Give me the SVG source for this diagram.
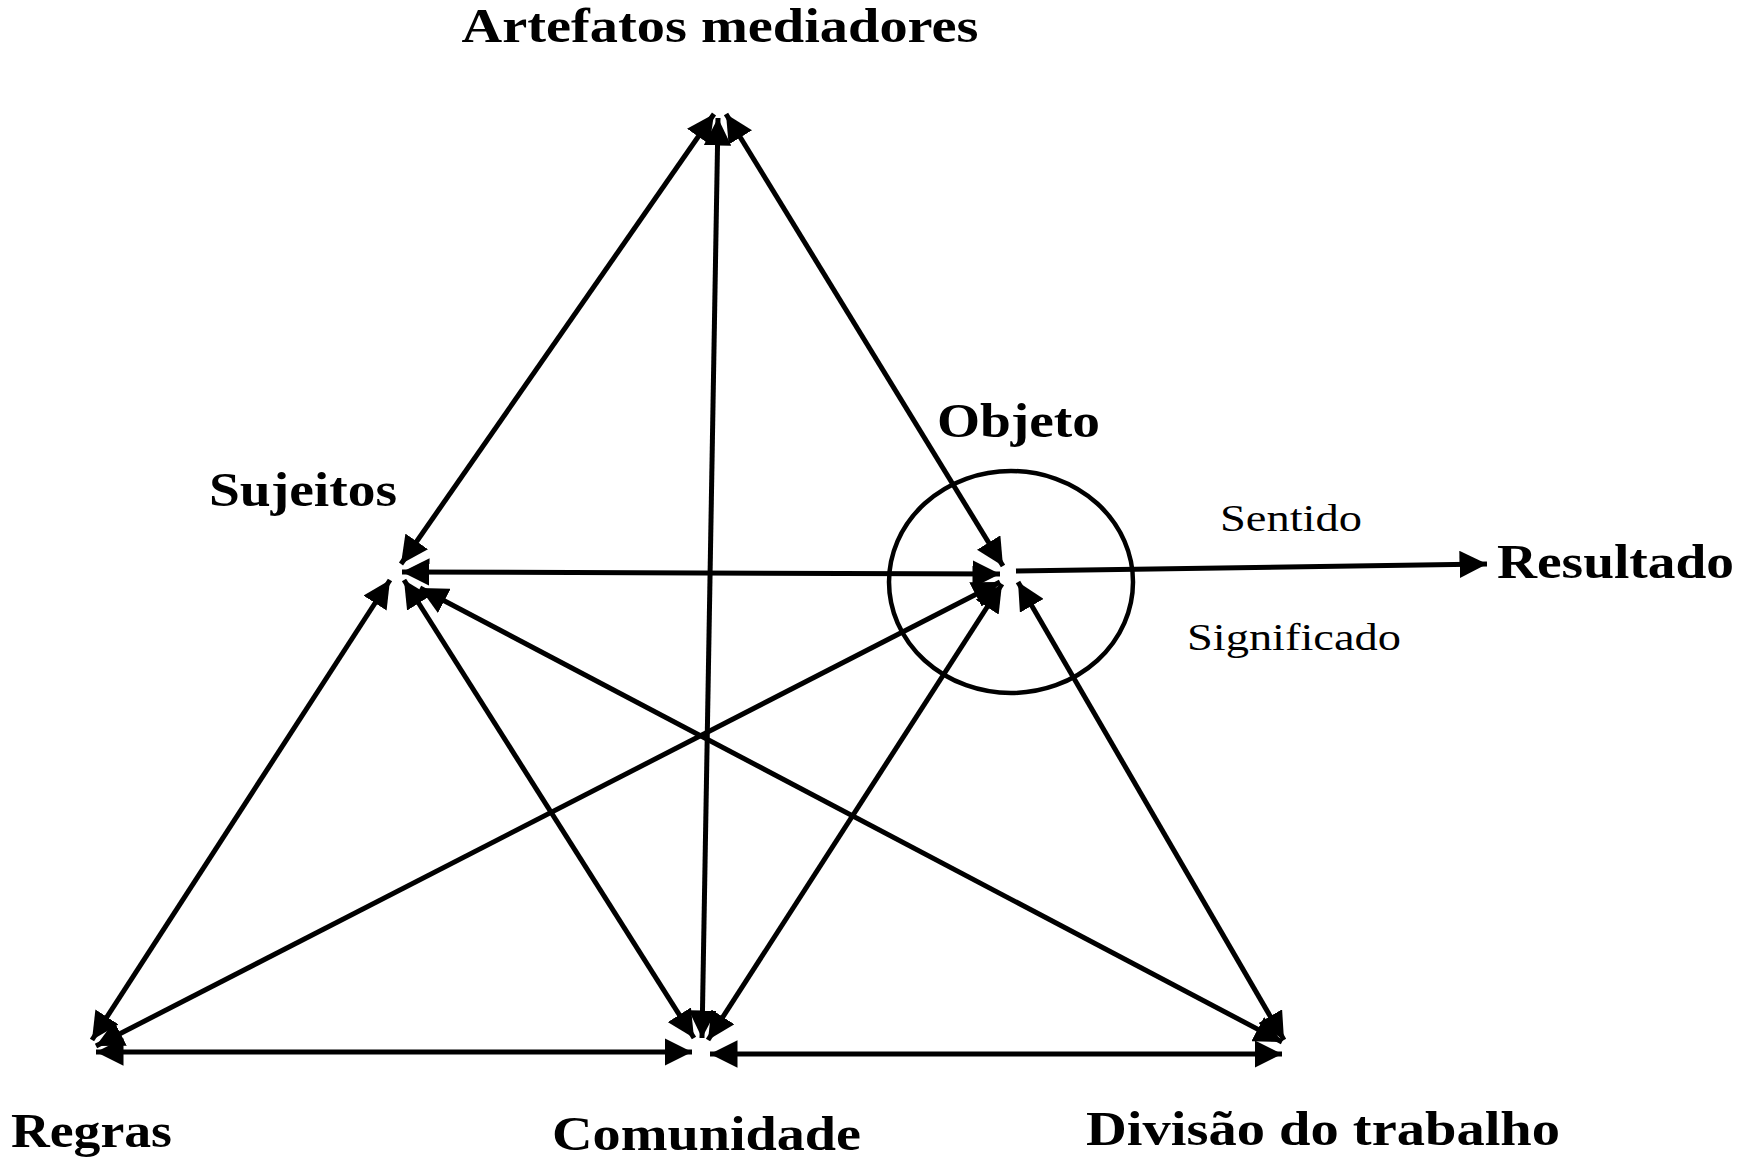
<svg xmlns="http://www.w3.org/2000/svg" width="1743" height="1163" viewBox="0 0 1743 1163">
<style>
.b{font-family:"Liberation Serif",serif;font-weight:bold;font-size:48px;fill:#000}
.n{font-family:"Liberation Serif",serif;font-size:38px;fill:#000}
.c line{stroke:#000;stroke-width:5;marker-end:url(#a);marker-start:url(#a)}
</style>
<defs><marker id="a" viewBox="0 0 10 10" refX="10" refY="5" markerWidth="5.5" markerHeight="5.5" orient="auto-start-reverse"><path d="M0,0L10,5L0,10z"/></marker></defs>
<rect width="1743" height="1163" fill="#fff"/>
<g class="c" id="connectors">
<line x1="401" y1="564" x2="714" y2="114"/>
<line x1="726" y1="114" x2="1003" y2="566"/>
<line x1="718" y1="118" x2="702" y2="1038"/>
<line x1="402" y1="572" x2="1000" y2="574"/>
<line x1="390" y1="580" x2="92" y2="1040"/>
<line x1="404" y1="580" x2="694" y2="1038"/>
<line x1="420" y1="588" x2="1282" y2="1042"/>
<line x1="1000" y1="582" x2="96" y2="1046"/>
<line x1="1002" y1="584" x2="708" y2="1040"/>
<line x1="1018" y1="582" x2="1284" y2="1040"/>
<line x1="96" y1="1052" x2="692" y2="1052"/>
<line x1="710" y1="1054" x2="1282" y2="1054"/>
<line x1="1016" y1="571" x2="1487" y2="564" style="marker-start:none"/>
<ellipse cx="1011" cy="582" rx="122" ry="111" fill="none" stroke="#000" stroke-width="4.5"/>
</g>
<g id="artefatos"><text class="b" x="720" y="42" text-anchor="middle" textLength="517" lengthAdjust="spacingAndGlyphs">Artefatos mediadores</text></g>
<g id="sujeitos"><text class="b" x="209" y="506" textLength="188" lengthAdjust="spacingAndGlyphs">Sujeitos</text></g>
<g id="objeto"><text class="b" x="937" y="437" textLength="163" lengthAdjust="spacingAndGlyphs">Objeto</text></g>
<g id="sentido"><text class="n" x="1220" y="531" textLength="142" lengthAdjust="spacingAndGlyphs">Sentido</text></g>
<g id="significado"><text class="n" x="1187" y="650" textLength="214" lengthAdjust="spacingAndGlyphs">Significado</text></g>
<g id="resultado"><text class="b" x="1497" y="578" textLength="237" lengthAdjust="spacingAndGlyphs">Resultado</text></g>
<g id="regras"><text class="b" x="11" y="1147" textLength="161" lengthAdjust="spacingAndGlyphs">Regras</text></g>
<g id="comunidade"><text class="b" x="552" y="1150" textLength="309" lengthAdjust="spacingAndGlyphs">Comunidade</text></g>
<g id="divisao"><text class="b" x="1086" y="1145" textLength="474" lengthAdjust="spacingAndGlyphs">Divisão do trabalho</text></g>
</svg>
